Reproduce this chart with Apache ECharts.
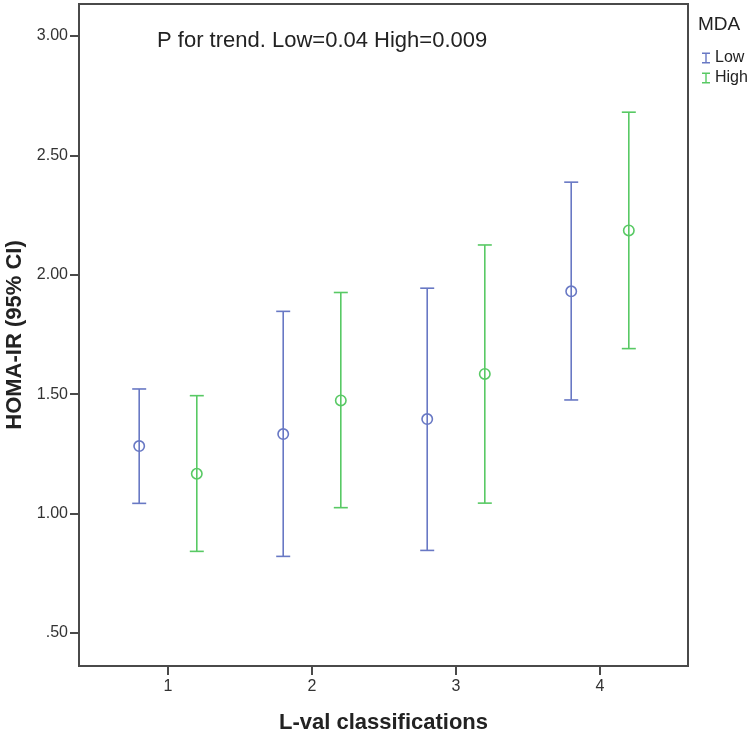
<!DOCTYPE html>
<html>
<head>
<meta charset="utf-8">
<script src="https://cdn.jsdelivr.net/npm/echarts@6/dist/echarts.min.js"></script>
<style>html,body{margin:0;padding:0;background:#fff;}#chart{width:750px;height:732px;}</style>
</head>
<body>
<div id="chart"></div>
<script>
// ---- data ----
const categories = [1, 2, 3, 4];
const yTicks = [0.5, 1.0, 1.5, 2.0, 2.5, 3.0];
const groupNames = ['Low', 'High'];
const lowMean  = [1.283, 1.333, 1.396, 1.931];
const lowLower = [1.043, 0.821, 0.846, 1.476];
const lowUpper = [1.522, 1.847, 1.944, 2.388];
const highMean  = [1.167, 1.474, 1.585, 2.186];
const highLower = [0.842, 1.025, 1.044, 1.691];
const highUpper = [1.494, 1.926, 2.125, 2.681];
const annotation = 'P for trend. Low=0.04 High=0.009';
const legendTitle = 'MDA';
const xTitle = 'L-val classifications';
const yTitle = 'HOMA-IR (95% CI)';

// ---- build ----
const OFFSET = 0.2;
const colors = ['#6878c4', '#58c964'];
function rows(mean, lo, hi, off) {
  return categories.map((c, i) => [c + off, lo[i], hi[i], mean[i]]);
}
function renderBar(color) {
  return function (params, api) {
    const x = api.value(0), lo = api.value(1), hi = api.value(2), m = api.value(3);
    const pLo = api.coord([x, lo]), pHi = api.coord([x, hi]), pM = api.coord([x, m]);
    const cap = 7, st = {stroke: color, lineWidth: 1.6, fill: null};
    return {type: 'group', children: [
      {type: 'line', shape: {x1: pLo[0], y1: pLo[1], x2: pHi[0], y2: pHi[1]}, style: st},
      {type: 'line', shape: {x1: pHi[0] - cap, y1: pHi[1], x2: pHi[0] + cap, y2: pHi[1]}, style: st},
      {type: 'line', shape: {x1: pLo[0] - cap, y1: pLo[1], x2: pLo[0] + cap, y2: pLo[1]}, style: st},
      {type: 'circle', shape: {cx: pM[0], cy: pM[1], r: 5.2}, style: {stroke: color, lineWidth: 1.6, fill: 'rgba(0,0,0,0)'}}
    ]};
  };
}
const font = 'Liberation Sans, Arial, sans-serif';
const axisColor = '#4a4a4a';
const chart = echarts.init(document.getElementById('chart'));
chart.setOption({
  animation: false,
  backgroundColor: '#fff',
  textStyle: {fontFamily: font},
  grid: {left: 79, right: 62, top: 4, bottom: 66, show: true, borderColor: axisColor, borderWidth: 2, backgroundColor: '#fff', containLabel: false, outerBoundsMode: 'none'},
  xAxis: {
    type: 'value', min: 0.382, max: 4.611,
    name: xTitle, nameLocation: 'middle', nameGap: 46,
    nameTextStyle: {fontSize: 22, fontWeight: 'bold', color: '#222', fontFamily: font},
    axisLine: {show: true, lineStyle: {color: axisColor, width: 2}},
    axisTick: {show: true, inside: false, length: 9, customValues: categories, lineStyle: {color: axisColor, width: 2}},
    axisLabel: {customValues: categories, formatter: v => String(v), fontSize: 16, color: '#333', margin: 13},
    splitLine: {show: false}
  },
  yAxis: {
    type: 'value', min: 0.362, max: 3.134,
    name: yTitle, nameLocation: 'middle', nameGap: 51, nameRotate: 90,
    nameTextStyle: {fontSize: 22, fontWeight: 'bold', color: '#222', fontFamily: font},
    axisLine: {show: true, lineStyle: {color: axisColor, width: 2}},
    axisTick: {show: true, inside: false, length: 9, customValues: yTicks, lineStyle: {color: axisColor, width: 2}},
    axisLabel: {customValues: yTicks, formatter: v => (v < 1 ? v.toFixed(2).replace(/^0/, '') : v.toFixed(2)), fontSize: 16, color: '#333', margin: 11},
    splitLine: {show: false}
  },
  legend: {
    orient: 'vertical', left: 697, top: 45, itemWidth: 8, itemHeight: 11, itemGap: 4,
    textStyle: {fontSize: 16, color: '#222', fontFamily: font},
    data: groupNames.map((n, i) => ({name: n, icon: 'path://M0,0h8v1.4h-8z M3.3,0h1.4v11h-1.4z M0,9.6h8v1.4h-8z', itemStyle: {color: colors[i]}}))
  },
  graphic: [
    {type: 'text', left: 698, top: 15, style: {text: legendTitle, fontSize: 19, fill: '#222', fontFamily: font}},
    {type: 'text', left: 157, top: 30, style: {text: annotation, fontSize: 22, fill: '#222', fontFamily: font}}
  ],
  series: [
    {name: groupNames[0], type: 'custom', renderItem: renderBar(colors[0]), itemStyle: {color: colors[0]}, data: rows(lowMean, lowLower, lowUpper, -OFFSET), encode: {x: 0, y: [1, 2, 3]}},
    {name: groupNames[1], type: 'custom', renderItem: renderBar(colors[1]), itemStyle: {color: colors[1]}, data: rows(highMean, highLower, highUpper, OFFSET), encode: {x: 0, y: [1, 2, 3]}}
  ]
});
</script>
</body>
</html>
